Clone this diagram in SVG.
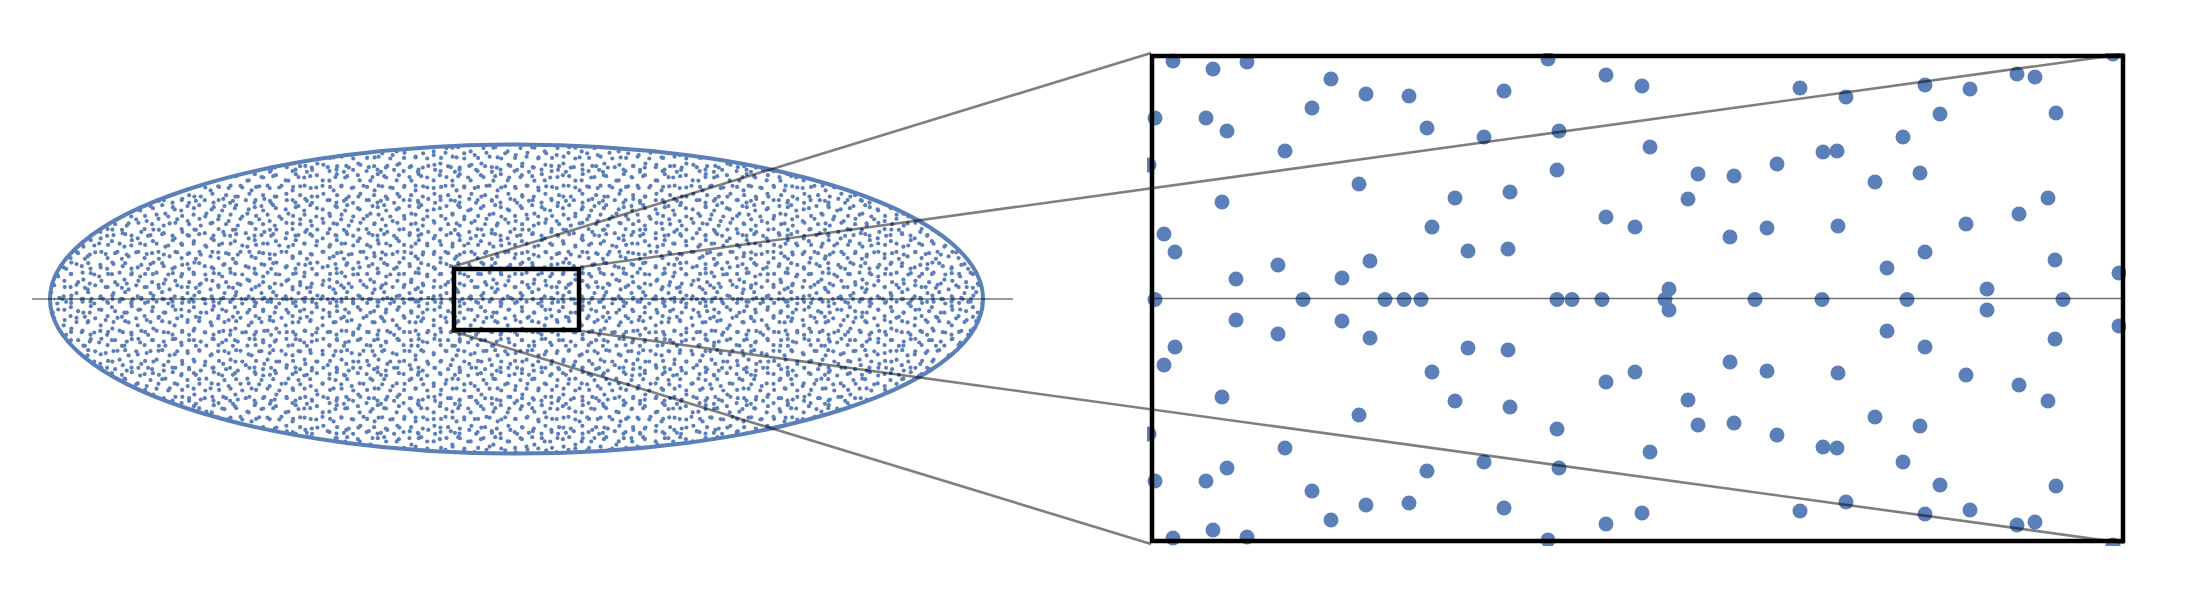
<svg xmlns="http://www.w3.org/2000/svg" xmlns:xlink="http://www.w3.org/1999/xlink" width="2200" height="600" viewBox="0 0 2200 600">
<style>
.d{fill:#5b80b9}
.big circle{fill:#5b80b9}
.conn{stroke:#000;stroke-opacity:0.5;stroke-width:2.6;fill:none}
.axis{stroke:#000;stroke-opacity:0.55;stroke-width:1.3}
.box{fill:none;stroke:#000}
</style>
<defs>
<pattern id="pA" patternUnits="userSpaceOnUse" x="0" y="0" width="37" height="29">
<g class="d">
<circle cx="2.5" cy="3.1" r="2.1"/><circle cx="14.2" cy="2.2" r="2.1"/><circle cx="26.7" cy="6.4" r="2.1"/><circle cx="34.1" cy="12.9" r="2.1"/><circle cx="8.6" cy="11.7" r="2.1"/><circle cx="20.3" cy="13.5" r="2.1"/><circle cx="4.1" cy="21.2" r="2.1"/><circle cx="15.8" cy="22.6" r="2.1"/><circle cx="27.4" cy="19.8" r="2.1"/><circle cx="33.6" cy="26.1" r="2.1"/><circle cx="10.9" cy="26.8" r="2.1"/>
</g>
</pattern>
<pattern id="pB" patternUnits="userSpaceOnUse" x="11" y="7" width="41" height="33">
<g class="d">
<circle cx="6.2" cy="5.5" r="2.1"/><circle cx="18.9" cy="3.2" r="2.1"/><circle cx="31.4" cy="8.7" r="2.1"/><circle cx="38.8" cy="2.2" r="2.1"/><circle cx="2.2" cy="14.3" r="2.1"/><circle cx="12.7" cy="16.1" r="2.1"/><circle cx="24.5" cy="13.8" r="2.1"/><circle cx="35.6" cy="18.4" r="2.1"/><circle cx="7.3" cy="26.9" r="2.1"/><circle cx="19.4" cy="24.6" r="2.1"/><circle cx="29.8" cy="28.2" r="2.1"/><circle cx="38.5" cy="30.7" r="2.1"/><circle cx="14.1" cy="30.8" r="2.1"/>
</g>
</pattern>
<pattern id="pAx" patternUnits="userSpaceOnUse" x="0" y="296.8" width="50" height="4.4">
<g class="d">
<circle cx="3" cy="2.2" r="2.1"/><circle cx="12.5" cy="2.2" r="2.1"/><circle cx="21" cy="2.2" r="2.1"/><circle cx="33" cy="2.2" r="2.1"/><circle cx="41.5" cy="2.2" r="2.1"/>
</g>
</pattern>
<clipPath id="clipBig"><rect x="1147" y="53" width="979" height="493"/></clipPath>
</defs>
<rect width="2200" height="600" fill="#fff"/>

<g id="ellipse">
<ellipse cx="516.5" cy="299" rx="466.5" ry="154.5" fill="url(#pA)"/>
<ellipse cx="516.5" cy="299" rx="466.5" ry="154.5" fill="url(#pB)"/>
<rect x="54" y="296.8" width="926" height="4.4" fill="url(#pAx)"/>
<ellipse cx="516.5" cy="299" rx="466.5" ry="154.5" fill="none" stroke="#5b80b9" stroke-width="4"/>
<line class="axis" x1="32" y1="299" x2="1013" y2="299"/>
</g>

<g id="zoom-box">
<rect class="box" x="454" y="269" width="125" height="61" stroke-width="4.5"/>
</g>

<g id="magnified">
<g clip-path="url(#clipBig)">
<g class="big">
<g id="topDots">
<circle cx="1173" cy="61" r="7.5"/><circle cx="1213" cy="69" r="7.5"/><circle cx="1247" cy="62" r="7.5"/><circle cx="1331" cy="79" r="7.5"/><circle cx="1366" cy="94" r="7.5"/><circle cx="1409" cy="96" r="7.5"/><circle cx="1312" cy="108" r="7.5"/><circle cx="1155" cy="118" r="7.5"/><circle cx="1206" cy="118" r="7.5"/><circle cx="1227" cy="131" r="7.5"/><circle cx="1427" cy="128" r="7.5"/><circle cx="1285" cy="151" r="7.5"/><circle cx="1149" cy="165" r="7.5"/><circle cx="1359" cy="184" r="7.5"/><circle cx="1455" cy="198" r="7.5"/><circle cx="1222" cy="202" r="7.5"/><circle cx="1432" cy="227" r="7.5"/><circle cx="1164" cy="234" r="7.5"/><circle cx="1175" cy="252" r="7.5"/><circle cx="1468" cy="251" r="7.5"/><circle cx="1278" cy="265" r="7.5"/><circle cx="1370" cy="261" r="7.5"/><circle cx="1236" cy="279" r="7.5"/><circle cx="1342" cy="278" r="7.5"/>
<circle cx="1548" cy="59" r="7.5"/><circle cx="1606" cy="75" r="7.5"/><circle cx="1642" cy="86" r="7.5"/><circle cx="1504" cy="91" r="7.5"/><circle cx="1800" cy="88" r="7.5"/><circle cx="1484" cy="137" r="7.5"/><circle cx="1559" cy="131" r="7.5"/><circle cx="1650" cy="147" r="7.5"/><circle cx="1557" cy="170" r="7.5"/><circle cx="1777" cy="164" r="7.5"/><circle cx="1698" cy="174" r="7.5"/><circle cx="1734" cy="176" r="7.5"/><circle cx="1510" cy="192" r="7.5"/><circle cx="1688" cy="199" r="7.5"/><circle cx="1606" cy="217" r="7.5"/><circle cx="1635" cy="227" r="7.5"/><circle cx="1730" cy="237" r="7.5"/><circle cx="1767" cy="228" r="7.5"/><circle cx="1508" cy="249" r="7.5"/><circle cx="1669" cy="289" r="7.5"/>
<circle cx="2113" cy="54" r="7.5"/><circle cx="1846" cy="97" r="7.5"/><circle cx="1925" cy="85" r="7.5"/><circle cx="1970" cy="89" r="7.5"/><circle cx="2017" cy="74" r="7.5"/><circle cx="2035" cy="77" r="7.5"/><circle cx="1940" cy="114" r="7.5"/><circle cx="2056" cy="113" r="7.5"/><circle cx="1903" cy="137" r="7.5"/><circle cx="1823" cy="152" r="7.5"/><circle cx="1837" cy="151" r="7.5"/><circle cx="1920" cy="173" r="7.5"/><circle cx="1875" cy="182" r="7.5"/><circle cx="2048" cy="198" r="7.5"/><circle cx="2019" cy="214" r="7.5"/><circle cx="1838" cy="226" r="7.5"/><circle cx="1966" cy="224" r="7.5"/><circle cx="1925" cy="252" r="7.5"/><circle cx="1887" cy="268" r="7.5"/><circle cx="2055" cy="260" r="7.5"/><circle cx="2119" cy="273" r="7.5"/><circle cx="1987" cy="289" r="7.5"/>
</g>
<use xlink:href="#topDots" transform="translate(0,599) scale(1,-1)"/>
<g id="axisDots">
<circle cx="1155" cy="299.5" r="7.5"/><circle cx="1303" cy="299.5" r="7.5"/><circle cx="1385" cy="299.5" r="7.5"/><circle cx="1404" cy="299.5" r="7.5"/><circle cx="1421" cy="299.5" r="7.5"/><circle cx="1557" cy="299.5" r="7.5"/><circle cx="1572" cy="299.5" r="7.5"/><circle cx="1602" cy="299.5" r="7.5"/><circle cx="1665" cy="299.5" r="7.5"/><circle cx="1755" cy="299.5" r="7.5"/><circle cx="1822" cy="299.5" r="7.5"/><circle cx="1907" cy="299.5" r="7.5"/><circle cx="2063" cy="299.5" r="7.5"/>
</g>
</g>
</g>
<line class="axis" x1="1152" y1="298.5" x2="2123" y2="298.5"/>
<rect class="box" x="1152" y="56" width="971" height="485" stroke-width="4.5"/>
</g>

<g id="connectors">
<line class="conn" x1="452" y1="267" x2="1151" y2="53"/>
<line class="conn" x1="581" y1="267" x2="2124" y2="54"/>
<line class="conn" x1="452" y1="331" x2="1151" y2="544"/>
<line class="conn" x1="581" y1="331" x2="2124" y2="543"/>
</g>
</svg>
